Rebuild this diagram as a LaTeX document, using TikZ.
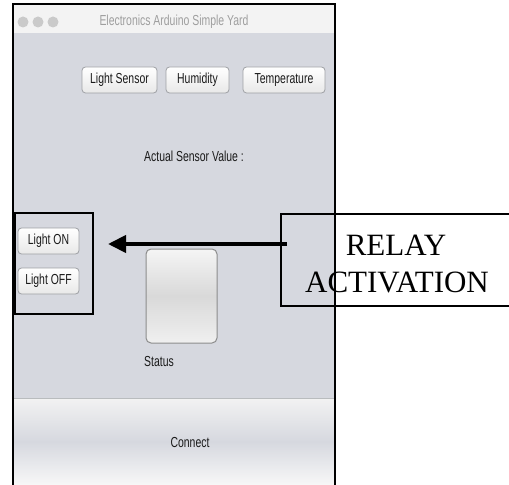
\documentclass[tikz,border=0pt]{standalone}
\usepackage{fontspec}
\newfontfamily\uifont[FakeStretch=0.72]{Liberation Sans}
\setmainfont{Liberation Serif}
\usetikzlibrary{arrows.meta}
\definecolor{winbg}{HTML}{D6D8DF}
\definecolor{titlebg}{HTML}{F3F3F3}
\definecolor{btnborder}{HTML}{9EA0A4}
\definecolor{uitext}{HTML}{1A1A1A}
\definecolor{dotgray}{HTML}{CACACA}
\tikzset{
  uibtn/.style={draw=btnborder, line width=0.8bp, rounded corners=3.5bp,
    top color=white, bottom color=black!9, inner sep=0pt,
    font=\uifont\fontsize{14.5bp}{16bp}\selectfont, text=uitext},
  uilabel/.style={font=\uifont\fontsize{14.5bp}{16bp}\selectfont, text=uitext, inner sep=0pt},
  blackbox/.style={draw=black, line width=2.4bp, inner sep=0pt},
  bigtext/.style={font=\fontsize{31bp}{37bp}\selectfont, inner sep=0pt, anchor=base},
  dot/.style={circle, fill=dotgray, minimum size=11bp, inner sep=0pt}
}
\begin{document}
\begin{tikzpicture}[x=1bp,y=-1bp]
\useasboundingbox[fill=white] (0,0) rectangle (509,485);
% window body
\fill[titlebg] (13,4) rectangle (335,33);
\draw[black!18, line width=0.6bp] (13,33) -- (335,33);
\fill[winbg] (13,33.3) rectangle (335,398);
\shade[top color=black!5, bottom color=blue!3!black!3, middle color=winbg] (13,398) rectangle (335,485);
\draw[black!30!cyan!8!gray!60, line width=0.8bp] (13,398) -- (335,398);
% title bar
\node[dot] (d1) at (23,22) {};
\node[dot] (d2) at (38,22) {};
\node[dot] (d3) at (53,22) {};
\node[font=\uifont\fontsize{14.5bp}{16bp}\selectfont, text=black!38, inner sep=0pt] (title) at (174,22) {Electronics Arduino Simple Yard};
% window border
\draw[black, line width=2.6bp] (13,485) -- (13,4) -- (335,4) -- (335,485);
% top buttons
\node[uibtn, minimum width=75bp, minimum height=26bp] (ls) at (119.5,80) {Light Sensor};
\node[uibtn, minimum width=63bp, minimum height=26bp] (hum) at (197.5,80) {Humidity};
\node[uibtn, minimum width=82bp, minimum height=26bp] (temp) at (284,80) {Temperature};
\node[uilabel] (actual) at (194,156) {Actual Sensor Value :};
% light buttons
\node[uibtn, minimum width=61bp, minimum height=26bp] (lon) at (48.5,241) {Light ON};
\node[uibtn, minimum width=61bp, minimum height=26bp] (loff) at (48.5,281) {Light OFF};
% status square
\node[draw=black!45, line width=1bp, rounded corners=5bp, minimum width=71bp, minimum height=94bp,
  top color=black!4, bottom color=black!6, middle color=black!15, inner sep=0pt] (status) at (181.5,296) {};
\node[uilabel] (statuslbl) at (159,362) {Status};
% connect
\node[uilabel] (connect) at (190,443) {Connect};
% annotation boxes
\node[blackbox, minimum width=78bp, minimum height=101bp] (leftbox) at (54,263.5) {};
\node[blackbox, line width=2bp, minimum width=234bp, minimum height=92bp] (relaybox) at (398,260) {};
\node[bigtext] (relay1) at (396,255) {RELAY};
\node[bigtext] (relay2) at (397,292) {ACTIVATION};
\coordinate (arrS) at (287,244);
\coordinate (arrE) at (108,244);
\draw[line width=4bp, -{Triangle[length=18bp,width=17bp]}] (arrS) -- (arrE);
\end{tikzpicture}
\end{document}
